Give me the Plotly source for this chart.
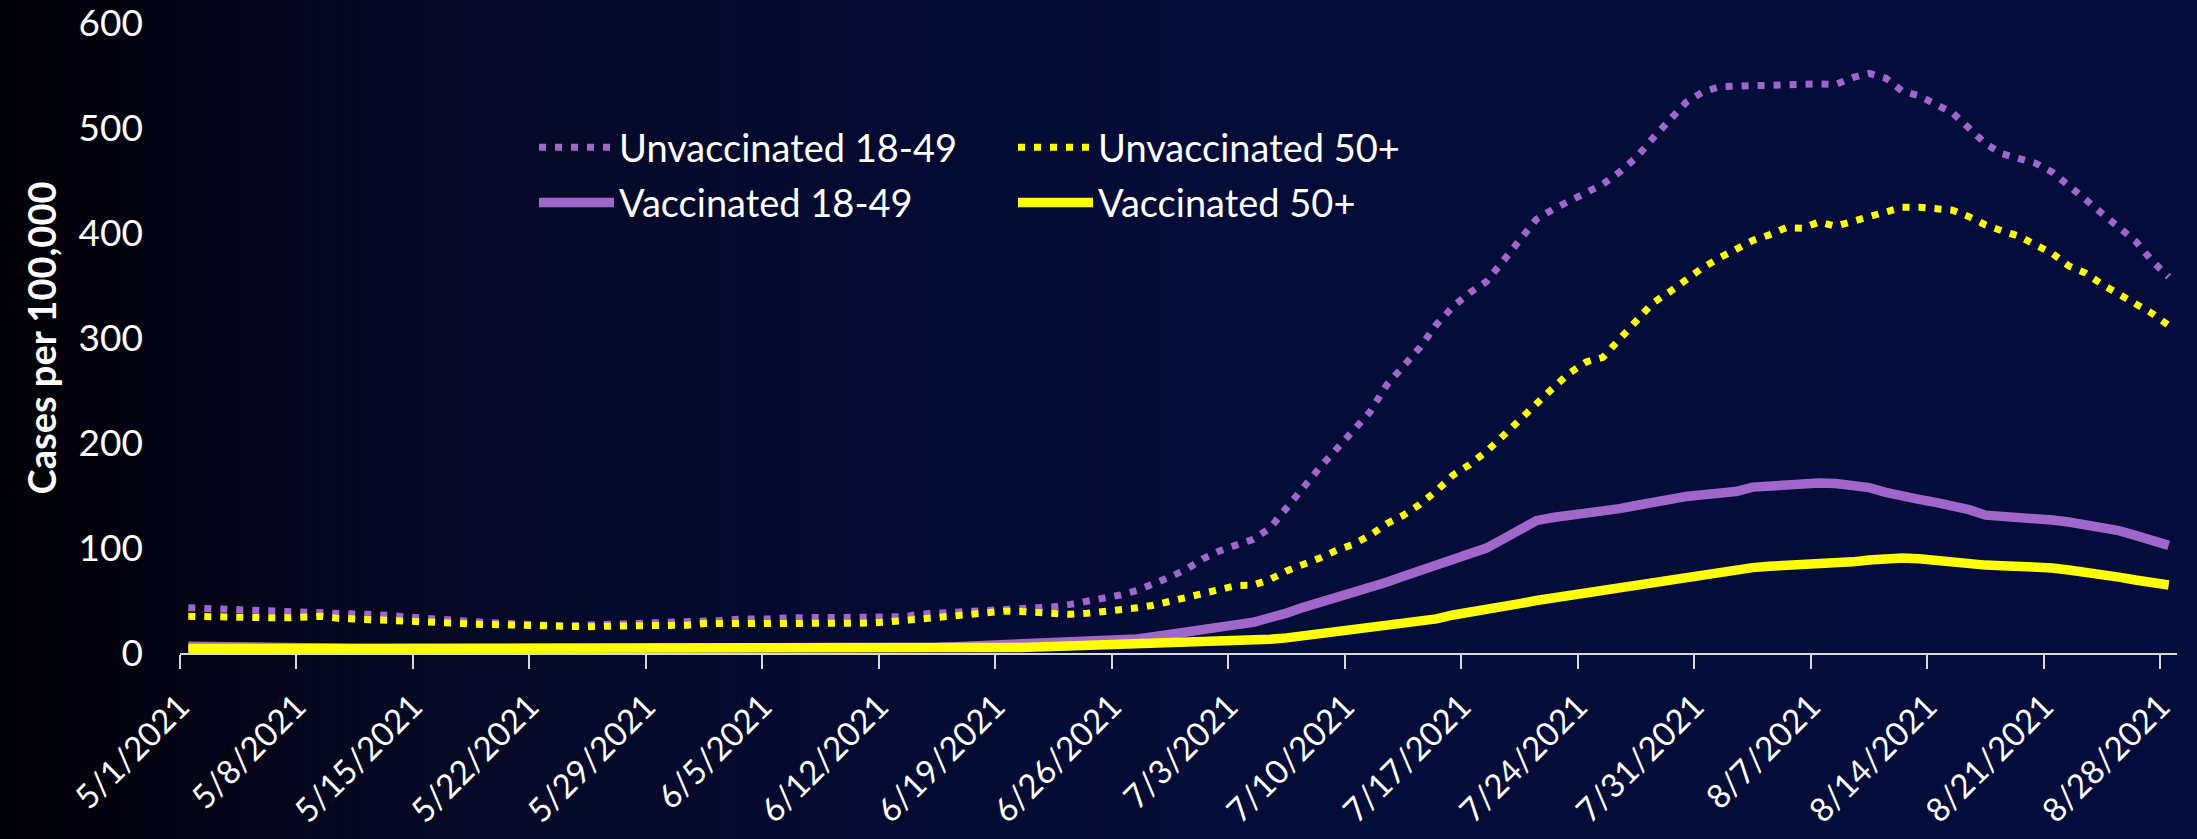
import pandas as pd
import plotly.graph_objects as go

# ---------------- data ----------------
dates = pd.date_range("2021-05-01", "2021-08-28", freq="D")

unvax_18_49 = [
    43, 42.5, 42.5, 41.5, 41, 40.5, 40, 40, 39, 38,
    38, 37, 36, 34.5, 33, 32, 31, 30, 29, 28,
    27, 26.5, 26, 26, 26.5, 27, 27, 27, 27.5, 28,
    28.5, 30, 31, 32.2, 32, 32.5, 33.5, 34.2, 33.8, 33.8,
    33.8, 33.8, 34, 34.6, 37.1, 38, 38.7, 39.5, 40.8, 41.8,
    42.4, 42.8, 44, 46.3, 48.8, 51.5, 55.2, 59.5, 65.5, 72.5,
    80, 90, 97.5, 102.5, 108.3, 119, 138.6, 159.5, 176.8, 194.3,
    212, 229.5, 255, 273.5, 290.8, 312.8, 330, 343, 353.7, 373.2,
    393, 413, 422.5, 430, 438.6, 446.5, 458, 471.8, 490.2, 507.6,
    524.5, 534.3, 539.2, 539.8, 540.2, 541, 542, 541, 542, 541.5,
    548, 552, 547.5, 535, 530.8, 522.5, 514.6, 500, 485, 475.4,
    470.4, 466.5, 458, 444, 432, 418.5, 404.7, 392.4, 373.5, 358,
]

unvax_50_plus = [
    35, 34.5, 34.5, 33, 33, 33.5, 33.5, 34, 35, 33,
    32.5, 32, 31.5, 31.5, 31, 30, 28.5, 27.5, 27, 26,
    25.5, 25, 24.5, 24.9, 25, 25.5, 25.5, 25.5, 26, 26.2,
    26.5, 28, 28.7, 28, 28, 28, 27.5, 28, 28, 27.5,
    28, 28.5, 29.5, 31, 32.5, 34, 35.5, 37.5, 39, 39.8,
    39.5, 38.2, 37.2, 36.8, 37.8, 39.2, 40.7, 43, 45.5, 49,
    53.6, 57.4, 60.5, 64.3, 64.7, 70.1, 78.2, 83.5, 90.5, 97.8,
    103.5, 112, 123, 131, 141.5, 154.5, 169.5, 179.5, 191.9, 206.7,
    222.5, 237.7, 252.4, 266.7, 277.2, 281.6, 299, 316.9, 333.3, 343.8,
    355.6, 367, 376.2, 384.6, 392.8, 398.2, 405, 404.5, 410.5, 406.5,
    411, 416, 421.3, 424.6, 424.6, 422.4, 421.7, 415.5, 407.7, 402,
    397, 388.6, 380.7, 368.6, 361.8, 351, 341.8, 331, 323.5, 312,
]

vax_18_49 = [
    6.5, 6.5, 6.5, 6.5, 6.5, 6, 5.5, 5, 4.5, 4.5,
    4, 4, 4, 4, 3.5, 3.5, 3.5, 3.5, 3.5, 3.5,
    3.5, 3.5, 3.5, 3.5, 3.5, 3.5, 3.5, 3.5, 3.5, 3.5,
    3.5, 3.5, 3.5, 3.5, 3.5, 3.5, 3.5, 3.5, 3.5, 3.5,
    3.5, 4, 4, 4.5, 5, 5.5, 6, 6.5, 7.5, 8.3,
    9, 9.6, 10.1, 10.7, 11.3, 11.9, 12.4, 13.4, 15.4, 17.3,
    19.8, 22, 24.5, 27, 29.3, 32.5, 38, 43.5, 48.1, 52.5,
    56.7, 61.5, 67.3, 73, 78.5, 84.5, 90.5, 95.2, 99.9, 108.5,
    117, 126, 129, 131, 133, 134, 137.5, 140.5, 143.5, 147,
    149, 150.7, 152.5, 153.8, 158, 159.5, 160.5, 161.2, 161.8, 161.5,
    160.5, 157.5, 153, 148.7, 146.3, 143.5, 140.7, 136.5, 131.3, 130.5,
    129.7, 128.5, 126.7, 124.8, 122.5, 119.3, 116.5, 112, 107.5, 102.5,
]

vax_50_plus = [
    4.2, 4.2, 4.0, 4.0, 3.8, 3.8, 3.6, 3.5, 3.5, 3.5,
    3.5, 3.5, 3.5, 3.4, 3.4, 3.4, 3.4, 3.4, 3.4, 3.4,
    3.3, 3.3, 3.3, 3.3, 3.3, 3.3, 3.3, 3.3, 3.3, 3.3,
    3.3, 3.4, 3.4, 3.4, 3.4, 3.4, 3.4, 3.5, 3.5, 3.5,
    3.5, 3.6, 3.7, 3.8, 4.0, 4.1, 4.3, 4.5, 4.7, 5.0,
    5.3, 5.6, 6.0, 6.3, 6.8, 7.2, 7.8, 8.4, 9.1, 9.8,
    10.5, 11.0, 11.4, 11.8, 12.1, 13.0, 14.4, 16.4, 18.5, 20.5,
    22.4, 23.8, 25.3, 27.3, 29.3, 32.5, 36.2, 38.5, 40.6, 44.0,
    47.0, 50.0, 52.5, 54.2, 56.0, 57.7, 61.0, 64.5, 67.0, 69.2,
    71.5, 74.0, 76.7, 79.3, 81.3, 82.6, 83.2, 83.8, 84.2, 84.7,
    86.8, 88.5, 90.0, 90.4, 89.8, 88.0, 86.6, 85.0, 83.7, 83.2,
    82.8, 82.1, 81.0, 79.0, 77.2, 75.0, 72.3, 69.5, 67.0, 64.7,
]

tick_dates = pd.date_range("2021-05-01", "2021-08-28", freq="7D")
tick_labels = [f"{d.month}/{d.day}/{d.year}" for d in tick_dates]

y_ticks = [0, 100, 200, 300, 400, 500, 600]

# ---------------- style ----------------
PURPLE = "#A066CC"
YELLOW = "#FFFF00"
FONT = "Lato"
W, H = 2197, 839
ML, MR, MT, MB = 180, 20, 23, 186
PW = W - ML - MR
PH = H - MT - MB

fig = go.Figure()
DAY_MS = 86400000

series = [
    ("Unvaccinated 18-49", unvax_18_49, PURPLE, "7px,9px", 7, "legend"),
    ("Vaccinated 18-49", vax_18_49, PURPLE, "solid", 9.5, "legend"),
    ("Unvaccinated 50+", unvax_50_plus, YELLOW, "7px,9px", 7, "legend2"),
    ("Vaccinated 50+", vax_50_plus, YELLOW, "solid", 9.5, "legend2"),
]
for name, vals, col, dash, w, lg in series:
    fig.add_trace(go.Scatter(
        x=dates, y=vals, name=name, mode="lines",
        line=dict(color=col, width=w, dash=dash),
        xperiod=DAY_MS, xperiodalignment="middle",
        legend=lg, legendgroup=name,
    ))

# background gradient (black at left -> navy at right)
stops = [(0.0, (0, 0, 5)), (0.12, (5, 6, 26)), (0.24, (6, 10, 40)),
         (0.37, (4, 10, 48)), (0.56, (4, 12, 56)), (1.0, (4, 12, 60))]


def grad(t):
    for (t0, c0), (t1, c1) in zip(stops[:-1], stops[1:]):
        if t <= t1:
            f = (t - t0) / (t1 - t0)
            return tuple(round(a + (b - a) * f) for a, b in zip(c0, c1))
    return stops[-1][1]


n = 110
shapes = []
for k in range(n):
    px0 = W * k / n
    px1 = W * (k + 1) / n + 1
    r, g, b = grad((k + 0.5) / n)
    shapes.append(dict(
        type="rect", xref="paper", yref="paper", layer="below",
        x0=(px0 - ML) / PW, x1=(px1 - ML) / PW,
        y0=-MB / PH - 0.01, y1=(H - MB) / PH + 0.01,
        fillcolor=f"rgb({r},{g},{b})", line=dict(width=0),
    ))

ITEM_W = 75
legend_common = dict(
    font=dict(family=FONT, size=38, color="white"),
    bgcolor="rgba(0,0,0,0)", orientation="v",
    yanchor="top", xanchor="left", tracegroupgap=3,
    itemwidth=ITEM_W,
)

fig.update_layout(
    width=W, height=H,
    margin=dict(l=ML, r=MR, t=MT, b=MB, autoexpand=False),
    paper_bgcolor="rgb(4,12,60)",
    plot_bgcolor="rgba(0,0,0,0)",
    shapes=shapes,
    font=dict(family=FONT, color="white"),
    legend=dict(x=(621 - ITEM_W - 12 - ML) / PW, y=(H - MB - 116) / PH,
                **legend_common),
    legend2=dict(x=(1100 - ITEM_W - 12 - ML) / PW, y=(H - MB - 116) / PH,
                 **legend_common),
    xaxis=dict(
        type="date", automargin=False,
        range=[pd.Timestamp("2021-05-01"), pd.Timestamp("2021-08-29")],
        tickmode="array", tickvals=tick_dates, ticktext=tick_labels,
        tickangle=-45, ticks="outside", ticklen=14, tickwidth=1.5,
        tickcolor="#D9D9D9", showline=True, linecolor="#D9D9D9",
        linewidth=2, showgrid=False, zeroline=False,
        ticklabelstandoff=5, ticklabeloverflow="allow",
        tickfont=dict(family=FONT, size=33, color="white"),
    ),
    yaxis=dict(
        range=[0, 600], tickmode="array", tickvals=y_ticks,
        automargin=False,
        showgrid=False, zeroline=False, showline=False, ticks="",
        ticklabelstandoff=36, ticklabeloverflow="allow",
        tickfont=dict(family=FONT, size=37, color="white"),
        title=dict(text="<b>Cases per 100,000</b>", standoff=10,
                   font=dict(family=FONT, size=38, color="white")),
    ),
)

fig.write_html(
    "out.html",
    config={"displayModeBar": False},
    post_script="document.body.style.margin='0';document.body.style.padding='0';",
)
